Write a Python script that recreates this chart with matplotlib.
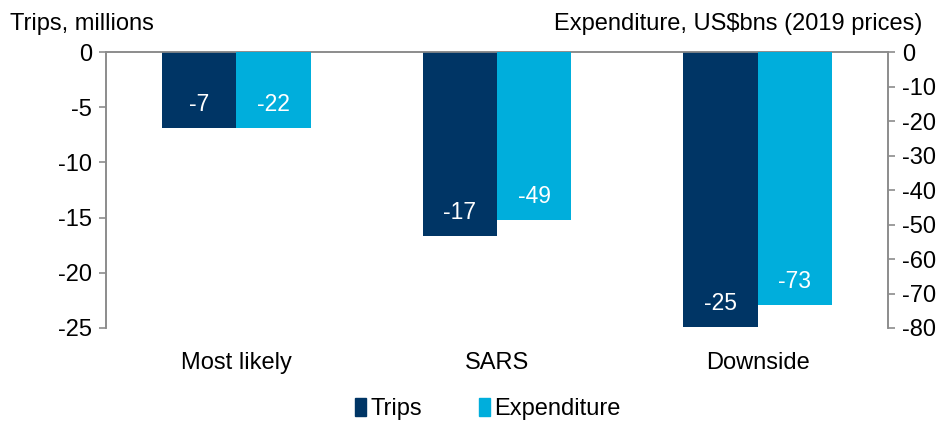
import numpy as np
import matplotlib
matplotlib.use("Agg")
import matplotlib.pyplot as plt
from matplotlib.patches import Patch

plt.rcParams['font.family'] = ['Liberation Sans', 'DejaVu Sans']
plt.rcParams['axes.unicode_minus'] = False

# data
categories = ['Most likely', 'SARS', 'Downside']
trips = [-6.9, -16.7, -24.9]
expenditure = [-22.0, -48.7, -73.3]
trip_labels = ['-7', '-17', '-25']
exp_labels = ['-22', '-49', '-73']

c_trips = '#003565'
c_exp = '#00AEDC'
grey = '#8C8C8C'
fs = 17

fig = plt.figure(figsize=(9.53, 4.21), dpi=100)
ax = fig.add_axes([106/953, 1 - 328/421, (888-106)/953, (328-52)/421])
ax2 = ax.twinx()

x = np.arange(len(categories))
w = 0.285

b1 = ax.bar(x - w/2, trips, w, color=c_trips, zorder=3)
b2 = ax2.bar(x + w/2, expenditure, w, color=c_exp, zorder=3)

ax.set_xlim(-0.5, 2.5)
ax.set_ylim(-25, 0)
ax2.set_ylim(-80, 0)
ax.set_yticks(np.arange(-25, 1, 5))
ax2.set_yticks(np.arange(-80, 1, 10))

# value labels near the bar ends
for bar, lab in zip(b1, trip_labels):
    ax.annotate(lab, (bar.get_x() + bar.get_width()/2, bar.get_height()),
                xytext=(0, 17), textcoords='offset points', ha='center', va='center',
                color='white', fontsize=16.5)
for bar, lab in zip(b2, exp_labels):
    ax2.annotate(lab, (bar.get_x() + bar.get_width()/2, bar.get_height()),
                 xytext=(0, 17), textcoords='offset points', ha='center', va='center',
                 color='white', fontsize=16.5)

for a in (ax, ax2):
    a.spines['bottom'].set_visible(False)
    for s in ('left', 'right', 'top'):
        a.spines[s].set_color(grey)
        a.spines[s].set_linewidth(1.2)
    a.tick_params(axis='y', colors=grey, labelcolor='black', labelsize=fs,
                  length=5, width=1.2, direction='out', pad=5)

ax.set_xticks(x)
ax.set_xticklabels(categories, fontsize=fs)
ax.tick_params(axis='x', length=0, pad=17)

fig.text(10/953, 1 - 24/421, 'Trips, millions', fontsize=fs, va='center', ha='left')
fig.text(922/953, 1 - 24/421, 'Expenditure, US$bns (2019 prices)', fontsize=fs,
         va='center', ha='right')

handles = [Patch(color=c_trips, label='Trips'), Patch(color=c_exp, label='Expenditure')]
fig.legend(handles=handles, loc='center', bbox_to_anchor=(488/953, 1 - 409/421),
           ncol=2, frameon=False, fontsize=fs, handlelength=0.45, handleheight=0.8,
           handletextpad=0.2, columnspacing=2.4)

fig.savefig('out.png', dpi=100)
